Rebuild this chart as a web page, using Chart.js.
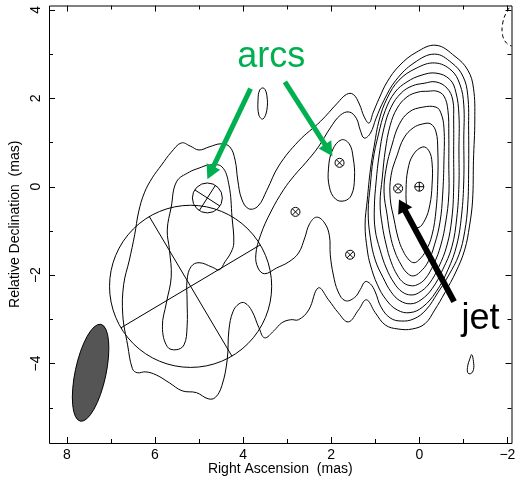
<!DOCTYPE html>
<html>
<head>
<meta charset="utf-8">
<script src="https://cdn.jsdelivr.net/npm/chart.js@4"></script>
<style>
html, body { margin: 0; padding: 0; background: #fff; }
canvas { display: block; }
</style>
</head>
<body>
<canvas id="map" width="517" height="481"></canvas>
<script>
// ---- axis extents and ticks (mas) ----
const raRange = [-2.093, 8.404];
const decRange = [-5.8, 4.1];
const raTicks = [8, 7, 6, 5, 4, 3, 2, 1, 0, -1, -2];
const raTickLabels = [8, 6, 4, 2, 0, -2];
const decTicks = [4, 3, 2, 1, 0, -1, -2, -3, -4, -5];
const decTickLabels = [4, 2, 0, -2, -4];

// ---- contours, [RA offset, Dec offset] in mas ----
// lowest level: envelope of the whole source
const contourLevel1 = [
  [5.40,0.99],[5.20,0.92],[5.00,0.83],[4.77,0.90],[4.50,0.97],[4.30,0.90],[4.18,0.60],[4.12,0.15],
  [4.03,-0.28],[3.87,-0.50],[3.66,-0.44],[3.46,-0.08],[3.19,0.47],[2.74,1.03],[2.24,1.48],[1.86,1.89],
  [1.65,2.09],[1.50,2.09],[1.36,1.87],[1.25,1.58],[1.14,1.44],[1.05,1.67],[0.91,2.00],[0.73,2.37],
  [0.46,2.73],[0.07,3.04],[-0.38,3.20],[-0.81,2.95],[-1.10,2.64],[-1.23,2.23],[-1.26,1.51],[-1.23,0.60],
  [-1.21,-0.30],[-1.14,-0.89],[-1.03,-1.43],[-0.83,-1.93],[-0.58,-2.40],[-0.35,-2.79],[-0.13,-3.10],
  [0.16,-3.22],[0.48,-3.22],[0.77,-3.13],[1.00,-2.85],[1.20,-2.56],[1.38,-2.79],[1.61,-3.06],[1.84,-2.85],
  [2.06,-2.56],[2.29,-2.29],[2.51,-2.79],[2.74,-3.01],[2.92,-3.01],[3.12,-3.08],[3.30,-3.26],[3.51,-3.42],
  [3.64,-3.19],[3.80,-2.81],[3.96,-2.63],[4.09,-2.65],[4.23,-2.83],[4.32,-3.24],[4.36,-3.92],[4.48,-4.50],
  [4.63,-4.77],[4.79,-4.80],[5.06,-4.66],[5.38,-4.62],[5.67,-4.44],[5.97,-4.26],[6.21,-4.19],[6.40,-4.21],
  [6.51,-4.12],[6.62,-3.58],[6.73,-2.90],[6.71,-2.22],[6.58,-1.66],[6.46,-1.09],[6.37,-0.57],[6.24,-0.14],
  [6.06,0.20],[5.85,0.49],[5.63,0.78]
];
const islandNorth = [[3.53,2.23],[3.46,2.07],[3.46,1.73],[3.55,1.53],[3.64,1.62],[3.66,1.96],[3.62,2.19]];
const islandSouthWest = [[-1.19,-3.80],[-1.23,-3.96],[-1.23,-4.14],[-1.17,-4.23],[-1.10,-4.21],[-1.10,-4.05],[-1.14,-3.92]];
const negativeContour = [[-2.14,4.17],[-1.98,3.95],[-1.89,3.68],[-1.89,3.43],[-1.98,3.25],[-2.14,3.16]];

// second level: eastern lobe and core + middle band
const contourLevel2East = [
  [4.77,0.49],[4.48,0.45],[4.32,0.04],[4.25,-0.69],[4.21,-1.27],[4.27,-1.48],[4.41,-1.70],[4.54,-1.88],
  [4.70,-1.82],[5.00,-1.72],[5.18,-1.81],[5.27,-2.11],[5.27,-2.56],[5.27,-3.17],[5.34,-3.58],[5.52,-3.69],
  [5.72,-3.62],[5.83,-3.17],[5.74,-2.63],[5.63,-2.04],[5.67,-1.43],[5.72,-0.98],[5.63,-0.46],[5.51,0.11],
  [5.22,0.33],[5.00,0.42]
];
const contourLevel2 = [
  [-0.35,3.00],[-0.74,2.80],[-0.99,2.50],[-1.10,2.07],[-1.12,1.28],[-1.12,0.38],[-1.10,-0.41],[-1.03,-1.02],
  [-0.90,-1.54],[-0.67,-2.00],[-0.42,-2.40],[-0.15,-2.79],[0.12,-2.99],[0.41,-3.04],[0.66,-2.97],[0.87,-2.72],
  [1.00,-2.38],[1.11,-2.20],[1.23,-2.15],[1.34,-2.33],[1.47,-2.51],[1.68,-2.58],[1.84,-2.38],[1.95,-2.00],
  [2.02,-1.54],[2.04,-1.11],[2.15,-0.82],[2.33,-0.69],[2.49,-0.84],[2.60,-1.16],[2.74,-1.50],[2.96,-1.70],
  [3.24,-1.84],[3.51,-1.97],[3.66,-1.84],[3.71,-1.54],[3.60,-1.09],[3.37,-0.57],[3.08,-0.07],[2.83,0.26],
  [2.58,0.54],[2.29,0.90],[2.02,1.33],[1.79,1.62],[1.59,1.69],[1.43,1.55],[1.34,1.28],[1.25,1.10],
  [1.11,1.21],[0.98,1.55],[0.80,1.96],[0.53,2.41],[0.12,2.80]
];
// third level
const contourLevel3Arc = [[1.77,1.06],[1.59,0.97],[1.50,0.65],[1.47,0.20],[1.54,-0.19],[1.70,-0.32],[1.90,-0.28],[2.04,-0.01],[2.06,0.42],[1.97,0.83]];
const contourLevel3 = [
  [-0.35,2.80],[-0.72,2.64],[-0.92,2.32],[-1.01,1.85],[-1.01,1.06],[-1.01,0.15],[-0.96,-0.64],[-0.85,-1.32],
  [-0.65,-1.88],[-0.38,-2.38],[-0.08,-2.72],[0.21,-2.85],[0.50,-2.79],[0.75,-2.56],[0.95,-2.22],[1.11,-1.77],
  [1.18,-1.43],[1.23,-0.87],[1.18,-0.30],[1.11,0.38],[1.02,0.94],[0.91,1.51],[0.73,2.00],[0.46,2.41],[0.07,2.68]
];
// core levels 4-9
const contourLevel4 = [
  [-0.38,2.57],[-0.69,2.43],[-0.83,2.14],[-0.90,1.62],[-0.90,0.83],[-0.90,0.04],[-0.85,-0.71],[-0.74,-1.36],
  [-0.53,-1.88],[-0.29,-2.31],[-0.04,-2.56],[0.19,-2.65],[0.44,-2.58],[0.64,-2.38],[0.82,-2.06],[1.00,-1.66],
  [1.11,-1.16],[1.16,-0.57],[1.11,0.04],[1.05,0.60],[0.93,1.17],[0.77,1.73],[0.55,2.14],[0.28,2.37],[-0.04,2.52]
];
const contourLevel5 = [
  [-0.38,2.37],[-0.63,2.23],[-0.76,1.96],[-0.78,1.51],[-0.78,0.72],[-0.78,-0.03],[-0.74,-0.71],[-0.63,-1.32],
  [-0.44,-1.82],[-0.22,-2.20],[0.01,-2.40],[0.19,-2.45],[0.39,-2.38],[0.57,-2.18],[0.75,-1.84],[0.89,-1.43],
  [1.00,-0.98],[1.02,-0.48],[0.98,0.11],[0.91,0.72],[0.80,1.33],[0.64,1.80],[0.41,2.12],[0.16,2.28],[-0.11,2.34]
];
const contourLevel6 = [
  [-0.40,2.16],[-0.56,2.05],[-0.65,1.73],[-0.67,1.17],[-0.67,0.49],[-0.67,-0.19],[-0.60,-0.80],[-0.49,-1.32],
  [-0.33,-1.75],[-0.13,-2.09],[0.05,-2.22],[0.19,-2.24],[0.35,-2.18],[0.50,-2.00],[0.64,-1.70],[0.75,-1.32],
  [0.84,-0.87],[0.89,-0.37],[0.84,0.20],[0.77,0.83],[0.66,1.39],[0.50,1.78],[0.28,2.03],[0.03,2.14],[-0.20,2.16]
];
const contourLevel7 = [
  [-0.38,1.80],[-0.49,1.67],[-0.56,1.33],[-0.56,0.60],[-0.53,-0.19],[-0.47,-0.80],[-0.35,-1.30],[-0.20,-1.70],
  [-0.02,-1.93],[0.14,-2.02],[0.28,-1.95],[0.41,-1.77],[0.55,-1.48],[0.66,-1.09],[0.73,-0.64],[0.80,-0.12],
  [0.75,0.42],[0.62,0.94],[0.46,1.40],[0.23,1.69],[-0.08,1.80]
];
const contourLevel8 = [
  [-0.26,1.42],[-0.38,1.24],[-0.42,0.83],[-0.42,0.15],[-0.38,-0.53],[-0.29,-1.09],[-0.15,-1.45],[0.01,-1.66],
  [0.12,-1.72],[0.23,-1.66],[0.37,-1.45],[0.48,-1.16],[0.57,-0.75],[0.66,-0.26],[0.64,0.26],[0.50,0.72],
  [0.35,1.10],[0.14,1.33],[-0.08,1.42]
];
const contourLevel9 = [
  [-0.08,0.90],[-0.22,0.81],[-0.29,0.54],[-0.29,0.04],[-0.24,-0.41],[-0.13,-0.75],[0.03,-0.93],[0.19,-0.82],
  [0.28,-0.48],[0.30,-0.07],[0.26,0.38],[0.14,0.72]
];

// ---- model-fit components ----
// point-like components (RA, Dec, mas)
const pointCompRA  = [1.81, 2.81, 1.57, 0.48];
const pointCompDec = [0.54, -0.57, -1.54, -0.04];
const coreRA  = [0.0];
const coreDec = [0.0];
// extended circular components: centre, radius and position angle of the drawn axes
const extCompRA     = [5.19, 4.81];
const extCompDec    = [-2.255, -0.255];
const extCompRadius = [1.84, 0.34];
const extCompPA     = [30.7, 57.3];

// restoring beam: centre, semi-major, semi-minor (mas), PA (deg)
const beamRA = 7.46, beamDec = -4.21, beamMajor = 1.12, beamMinor = 0.35, beamPA = -12;

// ---- annotations ----
const GREEN = '#00b050';
const annotationArrows = [
  { from: [3.83, 2.22], to: [4.81, 0.17], color: GREEN, width: 5, head: 14, headWidth: 15 },
  { from: [3.05, 2.37], to: [1.97, 0.69], color: GREEN, width: 5, head: 14, headWidth: 15 },
  { from: [-0.79, -2.60], to: [0.46, -0.29], color: '#000', width: 6, head: 13, headWidth: 16 }
];
const annotationLabels = [
  { text: 'arcs', at: [4.13, 2.70], color: GREEN },
  { text: 'jet',  at: [-0.96, -3.22], color: '#000' }
];

// ---- helpers ----
const toXY = pts => pts.map(([x, y]) => ({ x, y }));
const HIDDEN = 'rgba(0,0,0,0)';

function closedContour(pts, extra) {
  const n = pts.length;
  const wrapped = [pts[n - 1], ...pts, pts[0], pts[1]];
  return Object.assign({
    data: toXY(wrapped),
    showLine: true,
    tension: 0.4,
    borderColor: '#000',
    borderWidth: 1,
    pointRadius: 0,
    pointHoverRadius: 0,
    fill: false,
    segment: {
      borderColor: c => (c.p0DataIndex === 0 || c.p1DataIndex === n + 2) ? HIDDEN : undefined
    }
  }, extra || {});
}

function markerSet(ra, dec, style) {
  return {
    data: ra.map((x, i) => ({ x, y: dec[i] })),
    showLine: false,
    pointStyle: style,
    pointRadius: 4.5,
    pointHoverRadius: 4.5,
    borderColor: '#000',
    borderWidth: 1,
    backgroundColor: HIDDEN
  };
}

const datasets = [
  closedContour(contourLevel1),
  closedContour(islandNorth),
  closedContour(islandSouthWest),
  {
    data: toXY(negativeContour), showLine: true, tension: 0.4, borderColor: '#000', borderWidth: 1,
    borderDash: [4, 3], pointRadius: 0, pointHoverRadius: 0, fill: false
  },
  closedContour(contourLevel2East),
  closedContour(contourLevel2),
  closedContour(contourLevel3Arc),
  closedContour(contourLevel3),
  closedContour(contourLevel4),
  closedContour(contourLevel5),
  closedContour(contourLevel6),
  closedContour(contourLevel7),
  closedContour(contourLevel8),
  closedContour(contourLevel9),
  markerSet(pointCompRA, pointCompDec, 'circle'),
  markerSet(pointCompRA, pointCompDec, 'crossRot'),
  markerSet(coreRA, coreDec, 'circle'),
  markerSet(coreRA, coreDec, 'cross')
];

const fmt = v => String(v).replace('-', '\u2212');
const FONT = 'Liberation Sans, Arial, Helvetica, sans-serif';

// components, beam, arrows and labels drawn through the chart scales
const overlayPlugin = {
  id: 'overlay',
  afterDatasetsDraw(chart) {
    const { ctx, chartArea: a, scales: { x, y } } = chart;
    const px = v => x.getPixelForValue(v);
    const py = v => y.getPixelForValue(v);
    ctx.save();
    ctx.beginPath();
    ctx.rect(a.left, a.top, a.right - a.left, a.bottom - a.top);
    ctx.clip();

    // beam
    const kx = Math.abs(px(1) - px(0)), ky = Math.abs(py(1) - py(0));
    ctx.beginPath();
    ctx.ellipse(px(beamRA), py(beamDec), beamMinor * kx, beamMajor * ky, -beamPA * Math.PI / 180, 0, 2 * Math.PI);
    ctx.fillStyle = '#555555';
    ctx.fill();
    ctx.strokeStyle = '#000';
    ctx.lineWidth = 1;
    ctx.stroke();

    // extended components with their axes
    extCompRA.forEach((ra, i) => {
      const dec = extCompDec[i], r = extCompRadius[i], pa = extCompPA[i] * Math.PI / 180;
      ctx.beginPath();
      ctx.arc(px(ra), py(dec), r * kx, 0, 2 * Math.PI);
      ctx.stroke();
      [pa, pa + Math.PI / 2].forEach(t => {
        const dx = r * Math.sin(t), dy = r * Math.cos(t);
        ctx.beginPath();
        ctx.moveTo(px(ra + dx), py(dec + dy));
        ctx.lineTo(px(ra - dx), py(dec - dy));
        ctx.stroke();
      });
    });
    ctx.restore();

    // arrows
    annotationArrows.forEach(ar => {
      const x0 = px(ar.from[0]), y0 = py(ar.from[1]);
      const x1 = px(ar.to[0]), y1 = py(ar.to[1]);
      const L = Math.hypot(x1 - x0, y1 - y0), ux = (x1 - x0) / L, uy = (y1 - y0) / L;
      const bx = x1 - ux * ar.head, by = y1 - uy * ar.head;
      ctx.save();
      ctx.strokeStyle = ar.color;
      ctx.fillStyle = ar.color;
      ctx.lineWidth = ar.width;
      ctx.lineCap = 'butt';
      ctx.beginPath();
      ctx.moveTo(x0, y0);
      ctx.lineTo(bx + ux * 2, by + uy * 2);
      ctx.stroke();
      ctx.beginPath();
      ctx.moveTo(x1, y1);
      ctx.lineTo(bx - uy * ar.headWidth / 2, by + ux * ar.headWidth / 2);
      ctx.lineTo(bx + uy * ar.headWidth / 2, by - ux * ar.headWidth / 2);
      ctx.closePath();
      ctx.fill();
      ctx.restore();
    });

    // labels
    ctx.save();
    ctx.font = '36px ' + FONT;
    ctx.textAlign = 'left';
    ctx.textBaseline = 'alphabetic';
    annotationLabels.forEach(lb => {
      ctx.fillStyle = lb.color;
      ctx.fillText(lb.text, px(lb.at[0]), py(lb.at[1]));
    });
    ctx.restore();
  },
  afterDraw(chart) {
    // frame with inward ticks on all four sides
    const { ctx, chartArea: a, scales: { x, y } } = chart;
    ctx.save();
    ctx.strokeStyle = '#000';
    ctx.lineWidth = 1;
    ctx.beginPath();
    ctx.rect(a.left + 0.5, a.top + 0.5, a.right - a.left - 1 + 1, a.bottom - a.top - 1 + 1);
    ctx.stroke();
    ctx.beginPath();
    raTicks.forEach(v => {
      const p = Math.round(x.getPixelForValue(v)) + 0.5;
      const len = raTickLabels.includes(v) ? 6 : 4;
      ctx.moveTo(p, a.bottom); ctx.lineTo(p, a.bottom - len);
      ctx.moveTo(p, a.top); ctx.lineTo(p, a.top + len);
    });
    decTicks.forEach(v => {
      const p = Math.round(y.getPixelForValue(v)) + 0.5;
      const len = decTickLabels.includes(v) ? 6 : 4;
      ctx.moveTo(a.left, p); ctx.lineTo(a.left + len, p);
      ctx.moveTo(a.right, p); ctx.lineTo(a.right - len, p);
    });
    ctx.stroke();
    ctx.restore();
  }
};

new Chart(document.getElementById('map'), {
  type: 'scatter',
  data: { datasets },
  options: {
    responsive: false,
    animation: false,
    devicePixelRatio: 1,
    events: [],
    layout: { padding: { top: 5, right: 3, left: 0, bottom: 0 } },
    elements: { line: { capBezierPoints: false } },
    plugins: { legend: { display: false }, tooltip: { enabled: false } },
    scales: {
      x: {
        type: 'linear',
        reverse: true,
        min: raRange[0],
        max: raRange[1],
        afterBuildTicks: s => { s.ticks = raTicks.map(v => ({ value: v })); },
        afterFit: s => { s.height = 38; s.paddingLeft = 0; s.paddingRight = 0; },
        grid: { display: false, drawTicks: false },
        border: { display: false },
        ticks: {
          autoSkip: false, minRotation: 0, maxRotation: 0, padding: 4, color: '#000',
          font: { family: FONT, size: 14 },
          callback: v => raTickLabels.includes(v) ? fmt(v) : ''
        },
        title: {
          display: true, text: 'Right Ascension  (mas)', color: '#000',
          font: { family: FONT, size: 14 }, padding: { top: 0, bottom: 3 }
        }
      },
      y: {
        type: 'linear',
        min: decRange[0],
        max: decRange[1],
        afterBuildTicks: s => { s.ticks = decTicks.map(v => ({ value: v })); },
        afterFit: s => { s.width = 49; s.paddingTop = 0; s.paddingBottom = 0; },
        grid: { display: false, drawTicks: false },
        border: { display: false },
        ticks: {
          autoSkip: false, minRotation: 90, maxRotation: 90, crossAlign: 'center', padding: 5, color: '#000',
          font: { family: FONT, size: 14 },
          callback: v => decTickLabels.includes(v) ? fmt(v) : ''
        },
        title: {
          display: true, text: 'Relative Declination  (mas)', color: '#000',
          font: { family: FONT, size: 14 }, padding: { top: 7, bottom: 0 }
        }
      }
    }
  },
  plugins: [overlayPlugin]
});
</script>
</body>
</html>
